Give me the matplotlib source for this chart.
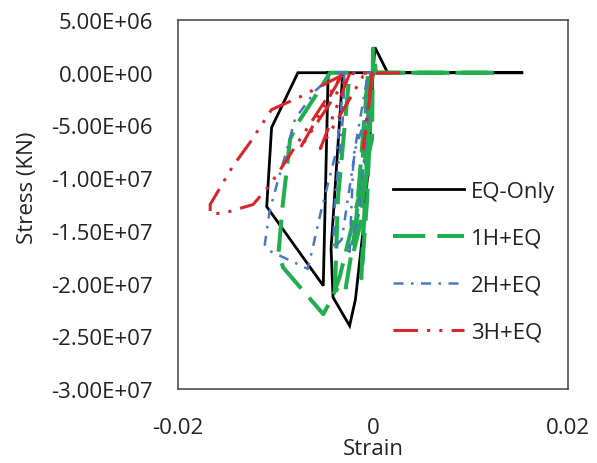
import matplotlib
matplotlib.use("Agg")
import matplotlib.pyplot as plt
import numpy as np

plt.rcParams['font.family'] = ['Open Sans', 'DejaVu Sans']

# Strain / stress histories (stress in units of 1e6 KN)
eq_only_strain = [0, 0.0002, 0.0015, 0.0154, -0.0077, -0.0104, -0.0109, -0.0051,
                  -0.0046, -0.0031, -0.0043, -0.0041, -0.0024, -0.0018, -0.0010,
                  -0.0005, -0.0001, 0]
eq_only_stress = [0, 2.4, 0, 0, 0, -5.2, -12.7, -20.2,
                  0, 0, -16.7, -21.3, -24.0, -21.5, -14.8,
                  -9.1, -2.5, 0]

h1_strain = [0, 0.0127, 0.0003, 0.0, -0.0001, -0.0008, -0.0024, -0.0034, -0.0041,
             -0.0051, -0.0092, -0.0097, -0.0093, -0.0085, -0.0078, -0.0059, -0.0044,
             -0.0024, -0.0036, -0.0039, -0.0029, -0.0013, -0.0005, -0.0020,
             -0.0012, -0.0002, -0.0012, -0.0006, -0.0001]
h1_stress = [0, 0, 0, 2.3, -6.3, -9.2, -15.5, -19.3, -21.2,
             -22.9, -18.5, -17.2, -12.9, -6.3, -4.9, -2.2, 0,
             0, -12.0, -20.5, -21.0, -12.0, 0, -17.0,
             -14.0, 0, -19.5, -12.0, 0]

h2_strain = [0, -0.0039, -0.0059, -0.0080, -0.0088, -0.0098, -0.0106, -0.0111,
             -0.0106, -0.0067, -0.0062, -0.0054, -0.0037, -0.0029, -0.0031, -0.0039,
             -0.0041, -0.0032, -0.0018, -0.0008, -0.0001, -0.0014, -0.0024,
             -0.0020, -0.0005]
h2_stress = [0, 0, -1.7, -4.4, -7.2, -10.4, -13.1, -16.3,
             -16.9, -18.6, -16.7, -13.4, -7.2, 0, -4.4, -12.0,
             -16.7, -15.8, -7.2, -4.4, 0, -13.0, -17.0,
             -8.0, 0]

h3_strain = [0.0028, -0.0029, -0.0075, -0.0104, -0.0126, -0.0144, -0.0167, -0.0167,
             -0.0152, -0.0123, -0.0108, -0.0098, -0.0031, -0.0075, -0.0024, -0.0054,
             -0.0010, -0.0001, -0.0010, 0]
h3_stress = [0, -0.1, -2.3, -3.5, -6.6, -8.9, -12.5, -13.4,
             -13.3, -12.5, -10.9, -9.6, -0.1, -7.2, -0.1, -7.2,
             -0.3, 0, -7.2, 0]

series_labels = ['EQ-Only', '1H+EQ', '2H+EQ', '3H+EQ']
x_ticks = [-0.02, 0, 0.02]
x_ticklabels = ['-0.02', '0', '0.02']
y_ticks = [5e6, 0, -5e6, -1e7, -1.5e7, -2e7, -2.5e7, -3e7]
y_ticklabels = ['5.00E+06', '0.00E+00', '-5.00E+06', '-1.00E+07',
                '-1.50E+07', '-2.00E+07', '-2.50E+07', '-3.00E+07']

fig = plt.figure(figsize=(5.97, 4.64), dpi=100)
ax = fig.add_axes([178/597, 1-390/464, 390/597, 369/464])

scale = 1e6
ax.plot(eq_only_strain, np.array(eq_only_stress)*scale, color='black', lw=2.0,
        label=series_labels[0], solid_joinstyle='miter')
ax.plot(h1_strain, np.array(h1_stress)*scale, color='#1faf4f', lw=2.9,
        linestyle=(0, (8, 3)), label=series_labels[1])
ax.plot(h2_strain, np.array(h2_stress)*scale, color='#4a78c0', lw=1.8,
        linestyle=(0, (4, 3, 1, 3)), label=series_labels[2])
ax.plot(h3_strain, np.array(h3_stress)*scale, color='#d9262a', lw=2.2,
        linestyle=(0, (8, 3, 1, 3, 1, 3)), label=series_labels[3])

ax.set_xlim(-0.02, 0.02)
ax.set_ylim(-3e7, 5e6)
ax.set_xticks(x_ticks)
ax.set_xticklabels(x_ticklabels)
ax.set_yticks(y_ticks)
ax.set_yticklabels(y_ticklabels)
ax.tick_params(axis='both', length=0, labelsize=16, colors='#222222')
ax.tick_params(axis='x', pad=20)
ax.tick_params(axis='y', pad=18)

for sp in ax.spines.values():
    sp.set_color('#404040')
    sp.set_linewidth(1.1)

ax.set_xlabel('Strain', fontsize=16, color='#222222', labelpad=0)
ax.set_ylabel('Stress (KN)', fontsize=16, color='#222222')
ax.yaxis.set_label_coords(-0.359, 0.547)

leg = ax.legend(loc='center left', bbox_to_anchor=(0.551, 0.345), frameon=False,
                fontsize=16, handlelength=3.2, handletextpad=0.3,
                labelspacing=1.16, borderpad=0, borderaxespad=0)
for t in leg.get_texts():
    t.set_color('#222222')

fig.savefig('out.png', dpi=100)
